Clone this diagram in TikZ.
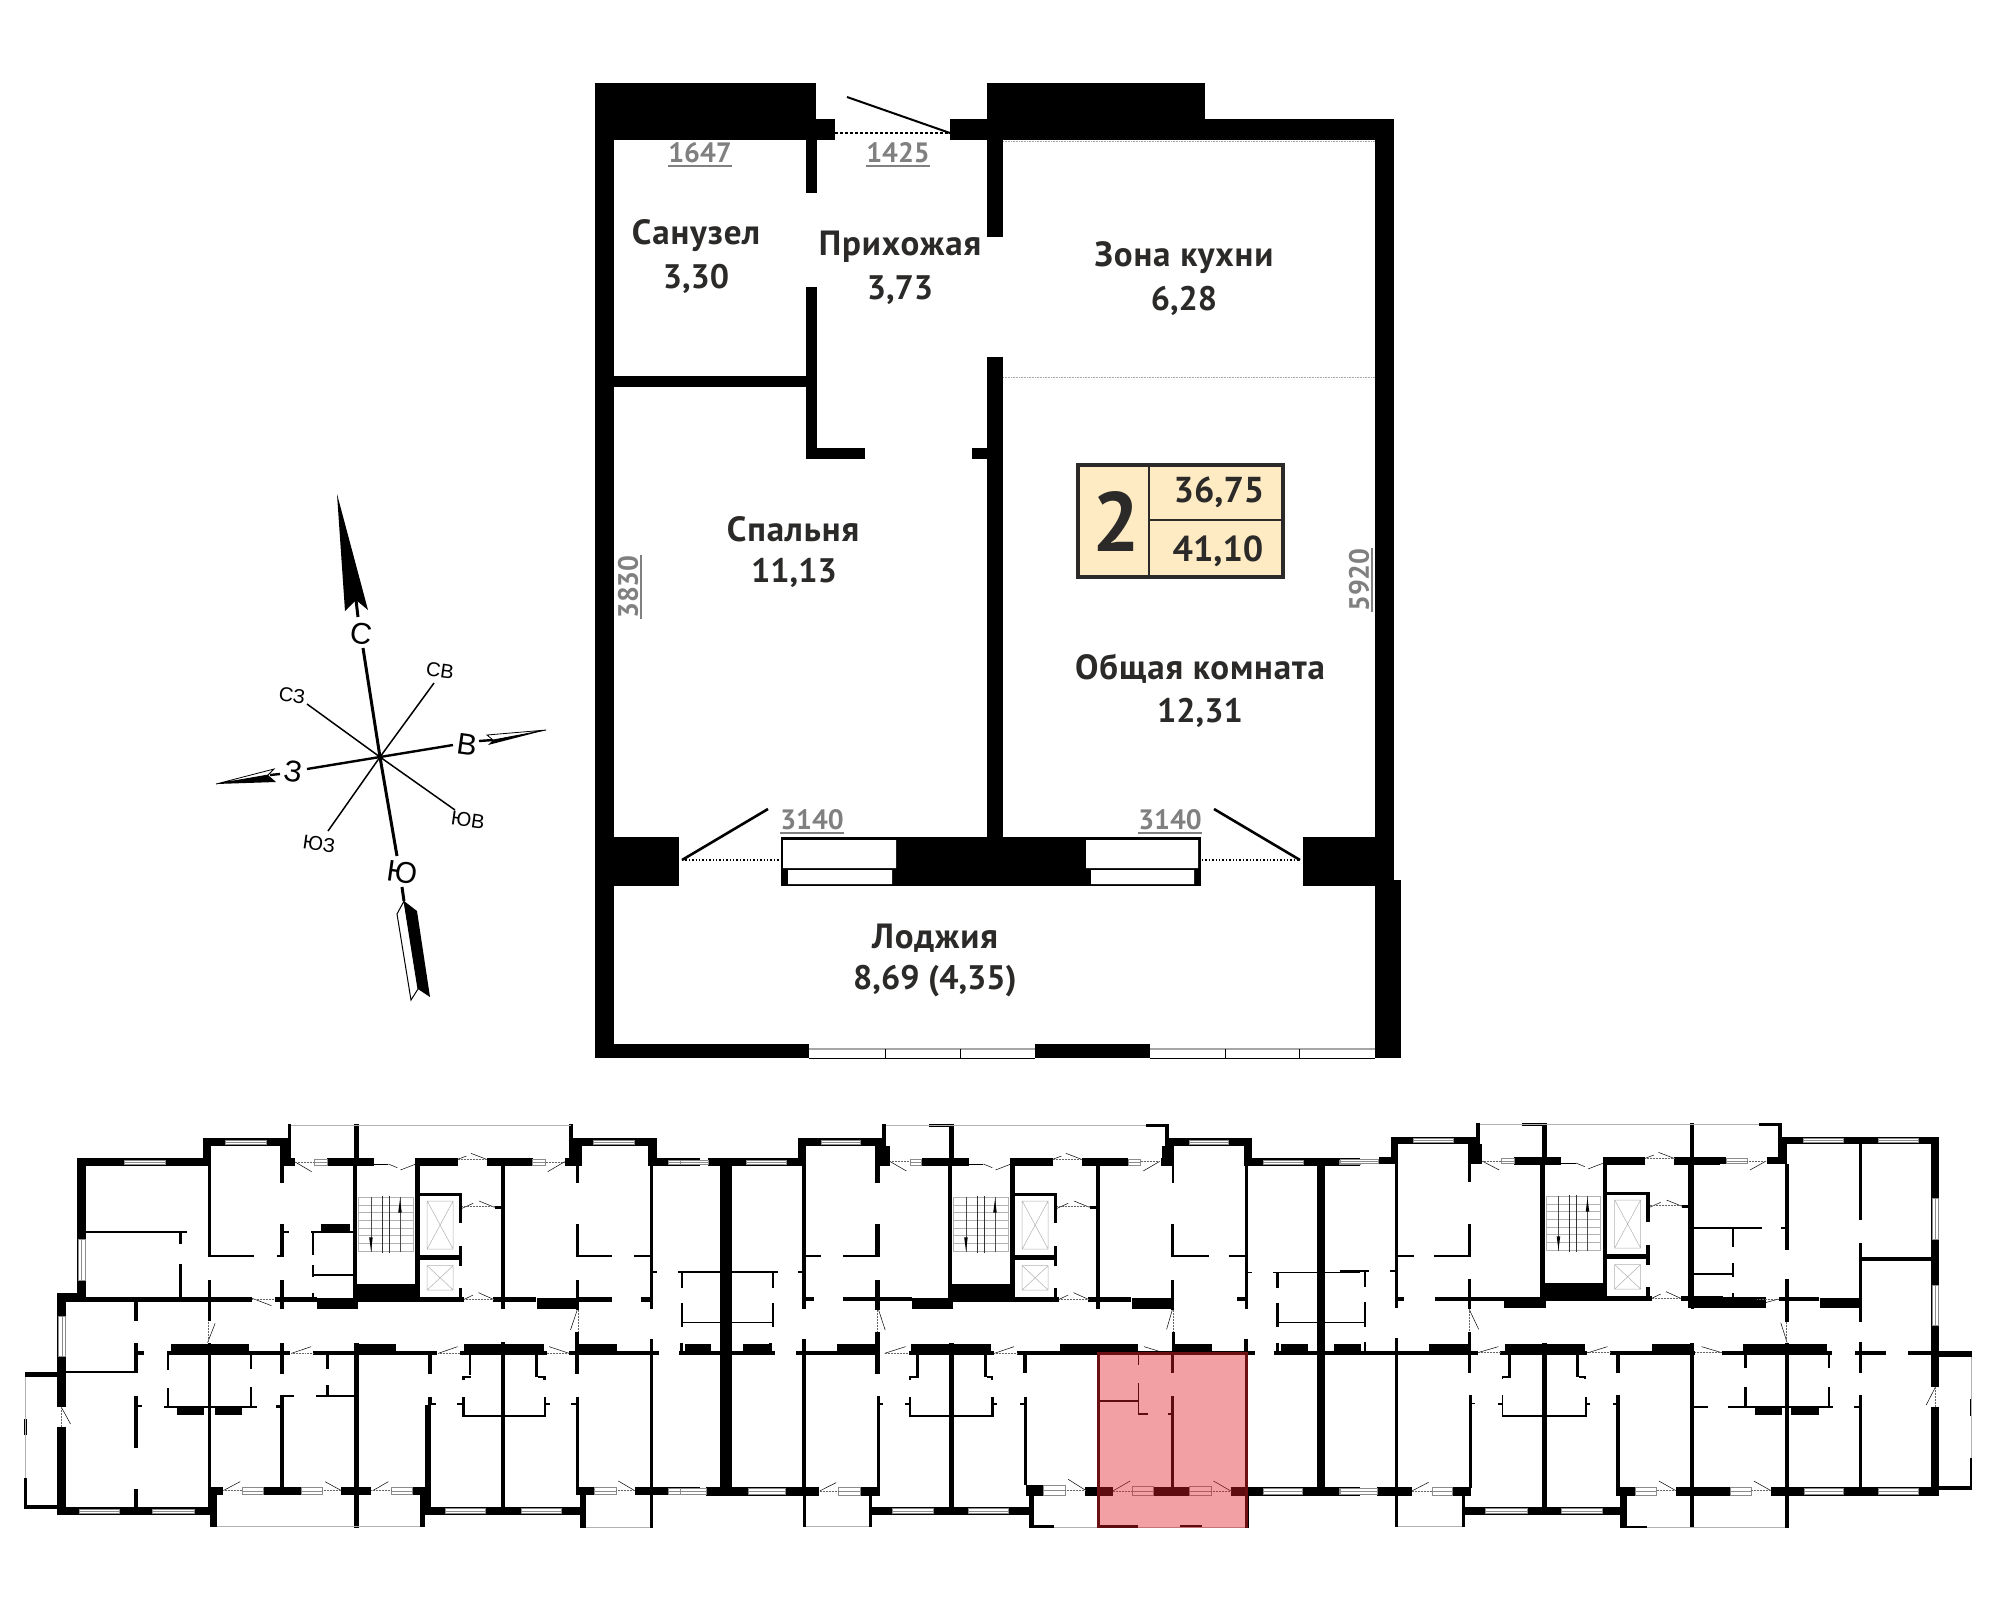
\documentclass[tikz,border=0pt]{standalone}
\usepackage{fontspec}
\setmainfont{PT Sans}
\newfontfamily\roomfont[LetterSpace=2.5]{PT Sans}
\newfontfamily\compassfont{Liberation Sans}

\definecolor{badgefill}{HTML}{FEEBC3}
\definecolor{dimgrey}{HTML}{808080}
\definecolor{labelink}{HTML}{2B2A29}
\definecolor{flatred}{HTML}{E21D28}
\definecolor{flatedge}{HTML}{6B0F12}

\newcommand{\wallbar}[4]{\fill (#1,#2) rectangle (#3,#4);}
\newcommand{\winbar}[4]{\filldraw[fill=white, draw=black!45, line width=.5pt] (#1,#2) rectangle (#3,#4); \draw[black!45, line width=.5pt] (#1,{(#2+#4)/2}) -- (#3,{(#2+#4)/2});}
\newcommand{\wincol}[4]{\filldraw[fill=white, draw=black!45, line width=.5pt] (#1,#2) rectangle (#3,#4); \draw[black!45, line width=.5pt] ({(#1+#3)/2},#2) -- ({(#1+#3)/2},#4);}
\newcommand{\doorleaf}[4]{\draw[line width=.5pt] (#1,#2) -- (#3,#4);}
\newcommand{\dotln}[4]{\draw[black!60, line width=.5pt, densely dotted] (#1,#2) -- (#3,#4);}
\newcommand{\rail}[4]{\draw[black!30, line width=.6pt] (#1,#2) -- (#3,#4);}

% stairs, lifts and the walls round them
\newcommand{\liftcore}{
	\wallbar{793}{13}{805}{115}
	\wallbar{732}{115}{837}{137}
	\wallbar{930}{115}{1025}{137}
	\wallbar{1090}{115}{1193}{137}
	\wallbar{837}{132}{870}{136}
	\doorleaf{870}{132}{890}{143}
	\doorleaf{897}{150}{930}{133}
	\doorleaf{1025}{118}{1045}{108}
	\doorleaf{1055}{100}{1090}{118}
	\dotln{1025}{118}{1090}{118}

	\wallbar{790}{137}{800}{540}
	\wallbar{930}{137}{940}{520}
	\wallbar{790}{492}{940}{540}
	\wallbar{790}{532}{1040}{545}
	\wallbar{710}{535}{803}{567}
	\wallbar{1105}{532}{1200}{545}
	\wallbar{1203}{535}{1295}{567}
	\wallbar{1122}{137}{1131}{568}

	\wallbar{940}{220}{1035}{228}
	\wallbar{940}{405}{1035}{420}
	\wallbar{1028}{228}{1035}{308}
	\wallbar{1028}{378}{1035}{438}
	\wallbar{1028}{505}{1035}{532}
	\wallbar{1108}{258}{1125}{266}
	\doorleaf{1035}{265}{1060}{250}
	\doorleaf{1073}{243}{1108}{262}
	\dotln{1035}{260}{1108}{260}
	\doorleaf{1040}{538}{1060}{525}
	\doorleaf{1072}{518}{1105}{538}
	\dotln{1040}{538}{1105}{538}

	\draw[black!30, line width=.5pt] (957,243) rectangle (1015,387) (957,243) -- (1015,387) (1015,243) -- (957,387);
	\draw[black!30, line width=.5pt] (957,437) rectangle (1015,510) (957,437) -- (1015,510) (1015,437) -- (957,510);

	\draw[black!30, line width=.5pt] (803,232) rectangle (925,395);
	\foreach \yr in {255,278,301,324,347,370} {\rail{803}{\yr}{925}{\yr}}
	\foreach \xr in {831,896} {\draw[black!70, line width=.8pt] (\xr,232) -- (\xr,395);}
	\draw[black!80, line width=1.2pt] (856,228) -- (856,400) (872,228) -- (872,400);
	\fill (831,392) -- (827,352) -- (835,352) -- cycle;
	\fill (896,238) -- (892,278) -- (900,278) -- cycle;
}

\begin{document}
\begin{tikzpicture}[x=1pt, y=-1pt, line cap=butt,
	roomlabel/.style={text=labelink, font=\roomfont\fontsize{35}{40}\selectfont\bfseries, inner sep=0pt},
	arealabel/.style={text=labelink, font=\fontsize{34}{38}\selectfont\bfseries, inner sep=0pt},
	dimlabel/.style={text=dimgrey, font=\fontsize{28}{30}\selectfont\bfseries, inner sep=0pt},
	dimline/.style={dimgrey, line width=1.8pt},
	bignote/.style={font=\compassfont\fontsize{30}{32}\selectfont, inner sep=0pt},
	smallnote/.style={font=\compassfont\fontsize{20}{22}\selectfont, inner sep=0pt},
	zonea/.style={xshift=0pt, yshift=-1120pt, x=.4464pt, y=-.3333pt},
	zoneb/.style={xshift=680pt, yshift=-1120pt, x=.4337pt, y=-.3333pt},
	zonec/.style={xshift=1340pt, yshift=-1120pt, x=.4279pt, y=-.3333pt},
	]
	\useasboundingbox[fill=white] (0,0) rectangle (2011,1599);

	% walls of the flat
	\wallbar{595}{83}{816}{140}
	\wallbar{816}{119}{835}{140}
	\wallbar{950}{119}{987}{140}
	\wallbar{987}{83}{1205}{140}
	\wallbar{1205}{119}{1394}{140}
	\wallbar{595}{140}{614}{1058}
	\wallbar{1375}{119}{1394}{886}
	\wallbar{1375}{880}{1401}{1058}
	\wallbar{806}{140}{817}{193}
	\wallbar{806}{287}{817}{459}
	\wallbar{806}{448}{865}{459}
	\wallbar{972}{448}{987}{459}
	\wallbar{987}{140}{1003}{237}
	\wallbar{987}{357}{1003}{837}
	\wallbar{614}{376}{806}{387}

	\wallbar{595}{837}{679}{886}
	\wallbar{781}{837}{1201}{886}
	\wallbar{1303}{837}{1394}{886}
	\fill[white] (783,840) rectangle (896,868) (788,870) rectangle (892,884);
	\fill[white] (1086,840) rectangle (1198,868) (1091,870) rectangle (1194,884);

	\wallbar{595}{1044}{809}{1058}
	\wallbar{1035}{1044}{1150}{1058}
	\draw[black!35, line width=1.5pt] (809,1049) -- (1035,1049) (1150,1049) -- (1375,1049);
	\draw[line width=.6pt] (809,1058) -- (1035,1058) (1150,1058) -- (1375,1058);
	\foreach \xt in {885,960,1225,1299} {\draw[line width=.6pt] (\xt,1049) -- (\xt,1058);}

	% doors and dotted lines
	\draw[line width=2pt] (847,97) -- (950,133);
	\draw[line width=2pt, densely dashed] (835,133) -- (950,133);
	\draw[line width=1.4pt, dotted] (682,860) -- (781,860) (1202,860) -- (1300,860);
	\draw[line width=2.6pt] (682,860) -- (768,809) (1214,809) -- (1300,860);
	\draw[black!35, line width=.6pt, densely dotted] (1003,141) -- (1375,141) (1003,377) -- (1375,377);

	% labels of the rooms
	\node[roomlabel] (bath) at (696,236) {Санузел};
	\node[arealabel] (batharea) at (696,279) {3,30};
	\node[roomlabel] (hall) at (900,247) {Прихожая};
	\node[arealabel] (hallarea) at (900,290) {3,73};
	\node[roomlabel] (kitchen) at (1184,258) {Зона кухни};
	\node[arealabel] (kitchenarea) at (1184,301) {6,28};
	\node[roomlabel] (bedroom) at (793,529) {Спальня};
	\node[arealabel] (bedroomarea) at (794,573) {11,13};
	\node[roomlabel] (living) at (1200,669) {Общая комната};
	\node[arealabel] (livingarea) at (1200,713) {12,31};
	\node[roomlabel] (loggia) at (935,938) {Лоджия};
	\node[arealabel] (loggiaarea) at (935,981) {8,69 (4,35)};

	\node[dimlabel] (dimbath) at (700,153) {1647};
	\node[dimlabel] (dimhall) at (898,153) {1425};
	\node[dimlabel] (dimbed) at (812,820) {3140};
	\node[dimlabel] (dimlive) at (1170,820) {3140};
	\node[dimlabel, rotate=90] (dimleft) at (628,587) {3830};
	\node[dimlabel, rotate=90] (dimright) at (1359,580) {5920};
	\draw[dimline] ([yshift=-2.5pt]dimbath.south west) -- ([yshift=-2.5pt]dimbath.south east);
	\draw[dimline] ([yshift=-2.5pt]dimhall.south west) -- ([yshift=-2.5pt]dimhall.south east);
	\draw[dimline] ([yshift=-2.5pt]dimbed.south west) -- ([yshift=-2.5pt]dimbed.south east);
	\draw[dimline] ([yshift=-2.5pt]dimlive.south west) -- ([yshift=-2.5pt]dimlive.south east);
	\draw[dimline] ([xshift=2.5pt]dimleft.south west) -- ([xshift=2.5pt]dimleft.south east);
	\draw[dimline] ([xshift=2.5pt]dimright.south west) -- ([xshift=2.5pt]dimright.south east);

	% badge with the areas
	\filldraw[fill=badgefill, draw=labelink, line width=3.2pt] (1078,465) rectangle (1283,577);
	\draw[labelink, line width=2.4pt] (1149,465) -- (1149,577) (1149,520) -- (1283,520);
	\node[arealabel, font=\fontsize{84}{90}\selectfont\bfseries] (rooms) at (1116,522) {2};
	\node[arealabel, font=\fontsize{36}{40}\selectfont\bfseries] (livearea) at (1219,492) {36,75};
	\node[arealabel, font=\fontsize{36}{40}\selectfont\bfseries] (totalarea) at (1218,551) {41,10};

	% compass
	\coordinate (ctr) at (380,757);
	\node[bignote, rotate=-8] (north) at (361,634) {С};
	\node[bignote, rotate=-8] (south) at (402,872) {Ю};
	\node[bignote, rotate=-8] (east) at (467,745) {В};
	\node[bignote, rotate=-8] (west) at (293,772) {З};
	\node[smallnote, rotate=-8] (ne) at (440,671) {СВ};
	\node[smallnote, rotate=-8] (nw) at (292,696) {СЗ};
	\node[smallnote, rotate=-8] (se) at (468,820) {ЮВ};
	\node[smallnote, rotate=-8] (sw) at (319,844) {ЮЗ};
	\coordinate (neend) at (434,683);
	\coordinate (nwend) at (307,704);
	\coordinate (seend) at (455,810);
	\coordinate (swend) at (328,831);

	\draw[line width=3pt] (ctr) -- (363,648) (358,617) -- (356,600);
	\draw[line width=3pt] (ctr) -- (397,856) (402,887) -- (404,901);
	\draw[line width=2.4pt] (ctr) -- (453,745) (479,741) -- (493,740);
	\draw[line width=2.4pt] (ctr) -- (307,769) (280,774) -- (270,775);
	\draw[line width=1.5pt] (ctr) -- (neend) (ctr) -- (nwend) (ctr) -- (seend) (ctr) -- (swend);

	\fill (337,494) -- (368,610) -- (356,600) -- (345,611) -- cycle;
	\filldraw[fill=white, line width=1pt] (404,901) -- (397,914) -- (411,1000) -- (418,989) -- cycle;
	\fill (404,901) -- (417,911) -- (430,997) -- (418,989) -- cycle;
	\filldraw[fill=white, line width=.8pt] (546,730) -- (487,735) -- (493,740) -- cycle;
	\fill (546,730) -- (488,745) -- (493,740) -- cycle;
	\filldraw[fill=white, line width=.8pt] (216,784) -- (274,769) -- (268,775) -- cycle;
	\fill (216,784) -- (276,782) -- (268,775) -- cycle;

	% floor plan, left part
	\begin{scope}[zonea]
		\liftcore
		\wallbar{173}{115}{465}{137} \wallbar{173}{115}{192}{520} \wallbar{128}{520}{192}{545} \wallbar{128}{532}{565}{545}
		\wallbar{192}{333}{420}{340} \wallbar{400}{340}{407}{372} \wallbar{400}{432}{407}{532}
		\wallbar{465}{77}{473}{410} \wallbar{465}{405}{570}{411} \wallbar{620}{405}{635}{411} \wallbar{628}{313}{637}{410} \wallbar{637}{333}{648}{340}
		\wallbar{455}{55}{473}{137} \wallbar{455}{55}{645}{77} \wallbar{628}{55}{650}{137} \wallbar{628}{115}{660}{137}
		\wallbar{645}{13}{653}{115} \wallbar{1274}{13}{1284}{115}
		\rail{653}{15}{1278}{15}
		\wallbar{628}{137}{637}{190} \wallbar{615}{532}{710}{545} \wallbar{628}{480}{637}{568} \wallbar{465}{480}{473}{603}
		\wallbar{697}{333}{790}{340} \wallbar{720}{312}{785}{335} \wallbar{700}{340}{704}{405} \wallbar{700}{435}{704}{470} \wallbar{704}{462}{790}{468} \wallbar{700}{520}{704}{532}
		\wallbar{1265}{115}{1304}{137} \wallbar{1274}{55}{1304}{137} \wallbar{1274}{55}{1472}{77} \wallbar{1452}{77}{1472}{137} \wallbar{1452}{115}{1568}{137}
		\wallbar{1290}{137}{1296}{190} \wallbar{1290}{313}{1296}{410} \wallbar{1290}{405}{1372}{412} \wallbar{1420}{405}{1457}{412} \wallbar{1290}{480}{1296}{570}
		\wallbar{1296}{532}{1370}{545} \wallbar{1437}{532}{1460}{545} \wallbar{1455}{137}{1462}{568} \wallbar{1462}{452}{1472}{458}
		\wallbar{1518}{452}{1568}{458} \wallbar{1525}{458}{1530}{503} \wallbar{1525}{550}{1530}{620} \wallbar{1530}{605}{1568}{610} \wallbar{1525}{670}{1530}{700} \wallbar{1535}{672}{1568}{700}

		\wallbar{128}{520}{147}{860} \wallbar{128}{920}{147}{1185} \wallbar{55}{757}{128}{772}
		\wallbar{53}{897}{60}{945} \wallbar{53}{1075}{60}{1168} \wallbar{53}{1155}{128}{1168}
		\rail{57}{772}{57}{1075}
		\wallbar{147}{752}{305}{760} \wallbar{300}{545}{309}{603} \wallbar{300}{670}{309}{760} \wallbar{309}{692}{323}{704}
		\wallbar{300}{828}{309}{985} \wallbar{309}{855}{318}{862} \wallbar{300}{1108}{309}{1165} \wallbar{128}{1162}{470}{1185}
		\wallbar{373}{693}{650}{704} \wallbar{382}{672}{558}{704} \wallbar{628}{670}{637}{762} \wallbar{465}{670}{473}{1165}
		\wallbar{701}{693}{980}{704} \wallbar{795}{672}{887}{704} \wallbar{793}{670}{805}{1225} \wallbar{1030}{693}{1225}{704} \wallbar{1040}{672}{1218}{704}
		\wallbar{1122}{667}{1131}{1165} \wallbar{1275}{693}{1476}{704} \wallbar{1290}{672}{1382}{704} \wallbar{1288}{637}{1297}{762} \wallbar{1455}{657}{1463}{1225}
		\wallbar{1520}{693}{1568}{704}
		\wallbar{375}{704}{379}{750} \wallbar{375}{805}{379}{860} \wallbar{367}{857}{575}{863} \wallbar{397}{863}{458}{884} \wallbar{482}{863}{541}{884}
		\wallbar{561}{704}{565}{748} \wallbar{561}{800}{565}{860}
		\wallbar{628}{828}{637}{1105} \wallbar{628}{826}{658}{831} \wallbar{618}{855}{628}{863} \wallbar{708}{826}{795}{831} \wallbar{731}{795}{736}{830} \wallbar{731}{704}{736}{747}
		\wallbar{958}{704}{967}{762} \wallbar{958}{832}{967}{855} \wallbar{952}{855}{966}{1185} \wallbar{967}{848}{977}{856} \wallbar{1024}{848}{1037}{856}
		\wallbar{1050}{704}{1056}{765} \wallbar{1035}{767}{1056}{775} \wallbar{1035}{767}{1041}{780} \wallbar{1035}{832}{1041}{892} \wallbar{1035}{885}{1222}{892}
		\wallbar{1198}{704}{1205}{770} \wallbar{1205}{767}{1222}{775} \wallbar{1217}{767}{1222}{780} \wallbar{1218}{832}{1224}{892} \wallbar{1224}{848}{1232}{855}
		\wallbar{1278}{848}{1290}{855} \wallbar{1290}{832}{1296}{1105}
		\wallbar{470}{1100}{500}{1125} \wallbar{590}{1100}{675}{1125} \wallbar{765}{1100}{832}{1125} \wallbar{923}{1100}{952}{1125}
		\wallbar{470}{1100}{487}{1222} \wallbar{940}{1100}{952}{1222} \wallbar{952}{1160}{1305}{1185}
		\rail{487}{1219}{940}{1219} \rail{1312}{1222}{1455}{1222}
		\wallbar{1290}{1100}{1332}{1125} \wallbar{1300}{1125}{1312}{1225} \wallbar{1422}{1100}{1568}{1125}

		\winbar{278}{120}{370}{133} \winbar{505}{60}{597}{73} \winbar{1330}{60}{1420}{73} \winbar{1497}{120}{1568}{133}
		\winbar{703}{117}{732}{135} \winbar{1193}{117}{1222}{135}
		\winbar{178}{1168}{268}{1181} \winbar{342}{1168}{435}{1181} \winbar{998}{1166}{1088}{1180} \winbar{1168}{1166}{1258}{1180}
		\winbar{543}{1102}{590}{1123} \winbar{675}{1102}{722}{1123} \winbar{877}{1102}{923}{1123} \winbar{1332}{1102}{1380}{1123} \winbar{1497}{1105}{1568}{1123}
		\wincol{175}{358}{190}{480} \wincol{130}{588}{147}{710}

		\doorleaf{660}{125}{698}{155} \dotln{660}{127}{703}{127} \doorleaf{1227}{155}{1265}{125} \dotln{1222}{127}{1265}{127}
		\doorleaf{565}{535}{608}{557} \dotln{565}{538}{615}{538} \doorleaf{138}{863}{158}{912} \dotln{138}{860}{138}{920}
		\doorleaf{465}{668}{482}{610} \dotln{467}{605}{467}{668} \doorleaf{1293}{570}{1278}{630} \dotln{1295}{570}{1295}{635}
		\doorleaf{653}{700}{697}{680} \dotln{653}{700}{703}{700} \doorleaf{982}{700}{1025}{680} \dotln{982}{700}{1030}{700} \doorleaf{1230}{680}{1275}{700} \dotln{1225}{700}{1275}{700}
		\doorleaf{500}{1112}{538}{1085} \dotln{500}{1112}{543}{1112} \doorleaf{728}{1085}{765}{1112} \dotln{722}{1112}{765}{1112}
		\doorleaf{835}{1112}{870}{1085} \dotln{832}{1112}{877}{1112} \doorleaf{1385}{1083}{1422}{1112} \dotln{1380}{1112}{1422}{1112}
	\end{scope}

	% floor plan, middle part
	\begin{scope}[zonea, xshift=595pt]
		\liftcore
	\end{scope}
	\begin{scope}[zoneb]
		\wallbar{65}{115}{290}{137} \wallbar{272}{55}{290}{137} \wallbar{272}{55}{470}{77} \wallbar{450}{77}{485}{137}
		\wallbar{465}{13}{475}{115} \wallbar{575}{13}{632}{20} \wallbar{1075}{13}{1127}{20} \wallbar{1118}{13}{1127}{115}
		\rail{475}{15}{1075}{15}
		\wallbar{1108}{115}{1135}{137} \wallbar{1112}{77}{1140}{137} \wallbar{1127}{55}{1320}{77} \wallbar{1300}{77}{1320}{137} \wallbar{1300}{115}{1568}{137}
		\wallbar{93}{115}{120}{1127} \wallbar{60}{1100}{320}{1127} \wallbar{415}{1100}{460}{1127} \wallbar{435}{1127}{443}{1222} \wallbar{283}{1127}{290}{1222}
		\rail{290}{1220}{435}{1220} \wallbar{437}{1160}{808}{1185}
		\wallbar{282}{77}{290}{568} \wallbar{290}{405}{325}{410} \wallbar{375}{405}{458}{410} \wallbar{450}{313}{460}{410} \wallbar{450}{137}{460}{190} \wallbar{450}{480}{460}{570}
		\wallbar{272}{453}{282}{460} \wallbar{282}{532}{308}{543} \wallbar{375}{532}{535}{543}
		\wallbar{120}{453}{225}{459} \wallbar{213}{459}{216}{503} \wallbar{213}{550}{216}{622} \wallbar{5}{605}{213}{610} \wallbar{0}{453}{93}{459} \wallbar{3}{459}{7}{503} \wallbar{3}{550}{7}{610}
		\wallbar{0}{670}{7}{695} \wallbar{12}{672}{72}{693} \wallbar{145}{672}{205}{693} \wallbar{205}{670}{212}{695} \wallbar{0}{693}{220}{704}
		\wallbar{282}{657}{290}{1100} \wallbar{267}{693}{460}{704} \wallbar{362}{672}{455}{693} \wallbar{450}{637}{460}{762}
		\wallbar{527}{693}{725}{704} \wallbar{533}{672}{717}{693} \wallbar{620}{670}{631}{1165}
		\wallbar{777}{693}{1325}{704} \wallbar{875}{672}{1055}{693} \wallbar{1135}{672}{1227}{693} \wallbar{790}{704}{800}{760} \wallbar{1135}{637}{1141}{697} \wallbar{1300}{657}{1310}{697}
		\wallbar{454}{828}{460}{1100} \wallbar{460}{848}{468}{855} \wallbar{518}{848}{528}{855} \wallbar{527}{832}{532}{892} \wallbar{527}{885}{722}{892}
		\wallbar{543}{704}{550}{770} \wallbar{527}{767}{550}{773} \wallbar{527}{767}{532}{780} \wallbar{700}{704}{707}{770} \wallbar{707}{767}{722}{773} \wallbar{717}{767}{722}{780}
		\wallbar{718}{832}{723}{892} \wallbar{723}{848}{730}{855} \wallbar{783}{848}{795}{855} \wallbar{793}{830}{800}{1095}
		\wallbar{1135}{137}{1140}{190} \wallbar{1133}{313}{1140}{410} \wallbar{1133}{405}{1220}{412} \wallbar{1265}{405}{1305}{412} \wallbar{1133}{480}{1140}{570} \wallbar{1285}{532}{1305}{543}
		\wallbar{1303}{137}{1310}{568} \wallbar{1310}{455}{1320}{460} \wallbar{1368}{455}{1568}{460} \wallbar{1375}{460}{1380}{503} \wallbar{1375}{550}{1380}{620} \wallbar{1378}{605}{1568}{610}
		\wallbar{1375}{670}{1380}{700} \wallbar{1385}{672}{1447}{693} \wallbar{1507}{672}{1568}{693} \wallbar{1370}{693}{1568}{704} \wallbar{1468}{115}{1487}{1127}
		\wallbar{1055}{704}{1059}{735} \wallbar{1055}{788}{1059}{880} \wallbar{1055}{878}{1078}{885} \wallbar{968}{840}{1055}{845} \wallbar{1131}{704}{1139}{760} \wallbar{1131}{828}{1139}{1100} \wallbar{1125}{878}{1131}{885}
		\wallbar{797}{1095}{838}{1127} \wallbar{805}{1127}{817}{1224} \wallbar{805}{1216}{862}{1224} \wallbar{934}{1100}{998}{1127} \wallbar{1092}{1100}{1175}{1127} \wallbar{1270}{1100}{1568}{1127}
		\wallbar{963}{1216}{1055}{1224} \wallbar{1153}{1216}{1203}{1224} \wallbar{1305}{1127}{1312}{1224}
		\rail{862}{1221}{963}{1221} \rail{1055}{1221}{1305}{1221}

		\winbar{0}{120}{65}{133} \winbar{153}{120}{245}{133} \winbar{325}{60}{415}{73} \winbar{530}{117}{557}{135} \winbar{1033}{117}{1062}{135} \winbar{1175}{60}{1265}{73}
		\winbar{1345}{120}{1438}{133} \winbar{1520}{120}{1568}{133} \winbar{0}{1105}{60}{1123} \winbar{157}{1105}{243}{1123} \winbar{365}{1102}{415}{1125}
		\winbar{490}{1166}{585}{1181} \winbar{665}{1166}{757}{1181} \winbar{838}{1097}{888}{1125} \winbar{1043}{1100}{1092}{1127} \winbar{1175}{1100}{1225}{1127} \winbar{1345}{1105}{1435}{1123} \winbar{1520}{1105}{1568}{1123}

		\doorleaf{485}{125}{522}{153} \dotln{485}{125}{530}{125} \doorleaf{1068}{153}{1105}{125} \dotln{1062}{125}{1105}{125}
		\doorleaf{458}{570}{473}{630} \dotln{455}{570}{455}{635} \doorleaf{1135}{570}{1122}{628} \dotln{1137}{570}{1137}{635}
		\doorleaf{472}{700}{520}{680} \dotln{472}{700}{527}{700} \doorleaf{725}{700}{770}{680} \dotln{725}{700}{777}{700} \doorleaf{1070}{680}{1115}{698}
		\doorleaf{322}{1113}{360}{1088} \dotln{322}{1113}{365}{1113} \doorleaf{895}{1078}{934}{1110} \dotln{888}{1110}{934}{1110}
		\doorleaf{998}{1113}{1038}{1083} \dotln{998}{1113}{1043}{1113} \doorleaf{1230}{1083}{1270}{1113} \dotln{1225}{1113}{1270}{1113}
	\end{scope}

	% floor plan, right part
	\begin{scope}[zonea, xshift=1187.5pt, yshift=1pt]
		\liftcore
	\end{scope}
	\begin{scope}[zonec]
		\wallbar{90}{112}{135}{133} \wallbar{118}{50}{135}{133} \wallbar{118}{50}{320}{72} \wallbar{300}{72}{332}{133}
		\wallbar{318}{10}{326}{112} \wallbar{425}{10}{484}{17} \wallbar{980}{10}{1034}{17} \wallbar{1024}{10}{1034}{112} \wallbar{817}{10}{827}{112}
		\rail{326}{12}{980}{12}
		\wallbar{998}{112}{1045}{133} \wallbar{1025}{72}{1045}{133} \wallbar{1034}{50}{1400}{72} \wallbar{783}{112}{902}{133}
		\wallbar{1382}{50}{1400}{800} \wallbar{1382}{860}{1400}{1125} \wallbar{1350}{1100}{1400}{1127}
		\wallbar{1400}{693}{1477}{710} \wallbar{1472}{837}{1478}{888} \wallbar{1472}{1015}{1478}{1110} \wallbar{1400}{1097}{1478}{1110}
		\rail{1475}{710}{1475}{1015}
		\wallbar{128}{133}{136}{565} \wallbar{136}{405}{172}{410} \wallbar{220}{405}{305}{410} \wallbar{298}{311}{307}{410} \wallbar{298}{133}{307}{187} \wallbar{298}{478}{307}{568}
		\wallbar{117}{450}{128}{456} \wallbar{128}{532}{150}{543} \wallbar{222}{532}{385}{543}
		\wallbar{0}{450}{68}{456} \wallbar{56}{456}{60}{500} \wallbar{56}{547}{60}{620} \wallbar{0}{605}{56}{610} \wallbar{0}{672}{50}{693} \wallbar{55}{665}{60}{693}
		\wallbar{0}{693}{322}{704} \wallbar{208}{672}{305}{693} \wallbar{128}{655}{136}{1100} \wallbar{298}{635}{307}{760}
		\wallbar{375}{693}{578}{704} \wallbar{385}{672}{572}{693} \wallbar{472}{670}{484}{1165} \wallbar{632}{693}{830}{704} \wallbar{730}{672}{825}{693} \wallbar{645}{704}{654}{760}
		\wallbar{818}{670}{827}{1225} \wallbar{892}{693}{1150}{704} \wallbar{942}{672}{1138}{693}
		\wallbar{1040}{133}{1049}{390} \wallbar{1040}{478}{1049}{605} \wallbar{1040}{668}{1049}{1225} \wallbar{820}{133}{827}{568}
		\wallbar{820}{322}{985}{328} \wallbar{1030}{322}{1040}{328} \wallbar{916}{328}{920}{380} \wallbar{916}{430}{920}{470} \wallbar{827}{460}{916}{465} \wallbar{916}{520}{920}{532}
		\wallbar{820}{532}{973}{543} \wallbar{820}{535}{922}{565} \wallbar{1027}{532}{1120}{543} \wallbar{1122}{535}{1220}{565}
		\wallbar{1212}{72}{1220}{300} \wallbar{1212}{368}{1220}{605} \wallbar{1220}{410}{1382}{422} \wallbar{1212}{665}{1220}{760} \wallbar{1203}{693}{1276}{704} \wallbar{1327}{693}{1382}{704} \wallbar{1212}{825}{1220}{1100}
		\wallbar{945}{704}{950}{745} \wallbar{945}{800}{950}{860} \wallbar{907}{857}{1153}{863} \wallbar{827}{857}{860}{863} \wallbar{970}{863}{1033}{884} \wallbar{1055}{863}{1120}{884}
		\wallbar{1140}{704}{1145}{745} \wallbar{1140}{800}{1145}{860} \wallbar{1200}{857}{1212}{863}
		\wallbar{302}{825}{309}{1105} \wallbar{307}{850}{316}{853} \wallbar{370}{850}{380}{856} \wallbar{378}{825}{382}{892} \wallbar{378}{885}{575}{892}
		\wallbar{393}{704}{400}{770} \wallbar{378}{767}{400}{773} \wallbar{378}{767}{382}{778} \wallbar{552}{704}{558}{770} \wallbar{558}{767}{575}{773} \wallbar{571}{767}{575}{778}
		\wallbar{572}{830}{577}{892} \wallbar{577}{848}{585}{856} \wallbar{637}{848}{647}{856} \wallbar{645}{825}{654}{1100}
		\wallbar{87}{1100}{168}{1127} \wallbar{262}{1100}{305}{1127} \wallbar{285}{1127}{293}{1222} \wallbar{128}{1127}{136}{1222} \wallbar{285}{1160}{670}{1185}
		\rail{136}{1220}{285}{1220} \rail{717}{1222}{1040}{1222}
		\wallbar{645}{1100}{690}{1127} \wallbar{655}{1127}{670}{1225} \wallbar{670}{1218}{717}{1225} \wallbar{785}{1100}{912}{1127} \wallbar{1007}{1100}{1350}{1127}

		\winbar{0}{117}{90}{130} \winbar{170}{55}{265}{68} \winbar{377}{114}{408}{131} \winbar{902}{114}{952}{131} \winbar{1083}{55}{1177}{68} \winbar{1258}{55}{1352}{68}
		\winbar{0}{1105}{87}{1123} \winbar{215}{1103}{262}{1125} \winbar{340}{1165}{437}{1181} \winbar{517}{1165}{613}{1181} \winbar{690}{1103}{740}{1125} \winbar{912}{1103}{960}{1125}
		\winbar{1085}{1105}{1177}{1123} \winbar{1258}{1105}{1352}{1123}
		\wincol{1384}{235}{1398}{358} \wincol{1384}{495}{1398}{615}

		\doorleaf{332}{123}{372}{150} \dotln{332}{123}{377}{123} \doorleaf{958}{150}{996}{123} \dotln{952}{123}{996}{123}
		\doorleaf{302}{568}{324}{628} \dotln{302}{568}{302}{635} \doorleaf{1030}{608}{1045}{668} \dotln{1043}{605}{1043}{668}
		\doorleaf{322}{698}{370}{680} \dotln{322}{698}{375}{698} \doorleaf{580}{698}{625}{680} \dotln{578}{698}{632}{698} \doorleaf{845}{680}{892}{698} \dotln{830}{698}{892}{698}
		\doorleaf{980}{553}{1025}{537} \dotln{975}{537}{1025}{537} \doorleaf{1392}{800}{1370}{855} \dotln{1392}{800}{1392}{860}
		\doorleaf{168}{1113}{207}{1087} \dotln{168}{1113}{215}{1113} \doorleaf{745}{1083}{785}{1112} \dotln{740}{1112}{785}{1112} \doorleaf{967}{1083}{1007}{1112} \dotln{960}{1112}{1007}{1112}
	\end{scope}

	% the flat marked on the floor plan
	\begin{scope}[zoneb]
		\fill[flatred, opacity=.42] (963,697) rectangle (1310,1223);
		\draw[flatedge, line width=3pt] (966,1223) -- (966,700) -- (1306,700) -- (1306,1223);
	\end{scope}
\end{tikzpicture}
\end{document}
